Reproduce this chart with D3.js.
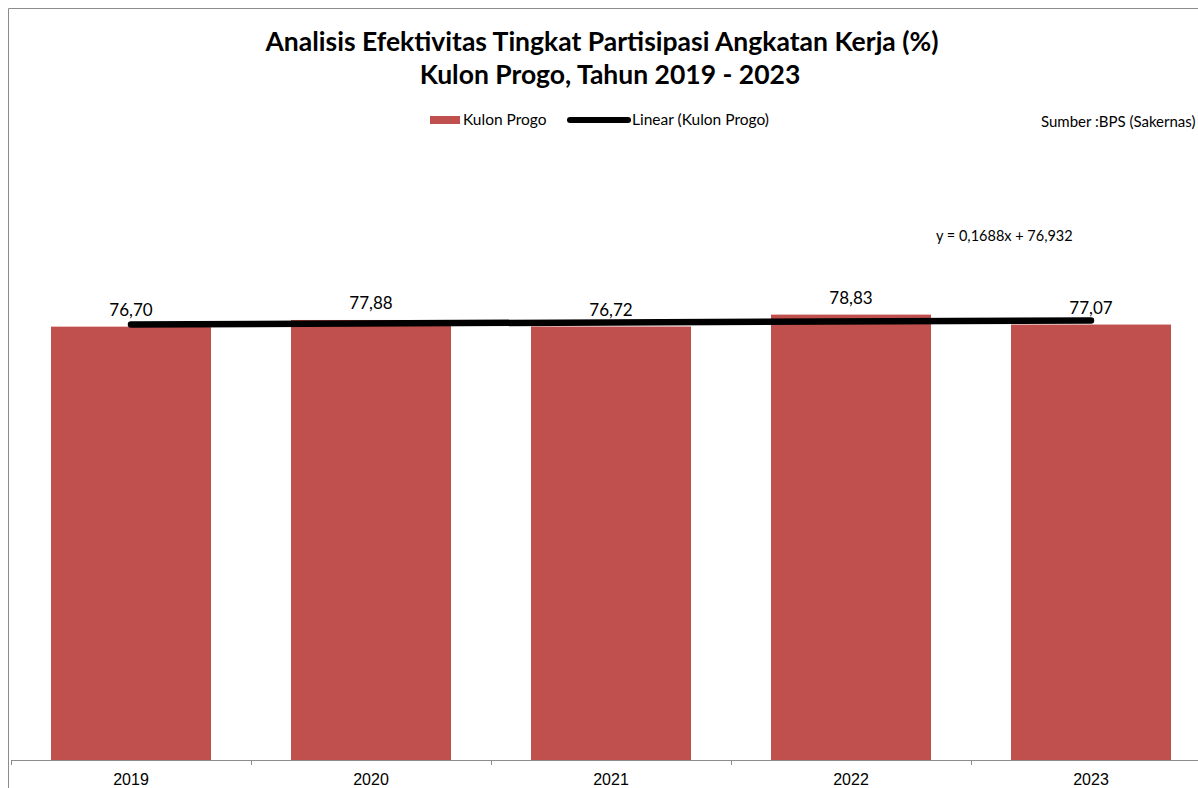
<!DOCTYPE html>
<html>
<head>
<meta charset="utf-8">
<script src="https://cdn.jsdelivr.net/npm/d3@7"></script>
<style>
body { margin: 0; background: #fff; }
svg { display: block; font-family: Lato, "Open Sans", sans-serif; }
</style>
</head>
<body>
<div id="chart"></div>
<script>
const years = ["2019", "2020", "2021", "2022", "2023"];
const tpak = [76.70, 77.88, 76.72, 78.83, 77.07];
const valueLabels = ["76,70", "77,88", "76,72", "78,83", "77,07"];
const trend = {slope: 0.1688, intercept: 76.932};
const trendLabel = "y = 0,1688x + 76,932";

const width = 1198;
const height = 788;
const margin = {top: 195, bottom: 28, left: 11, right: -13};
const barColor = "#C0504D";

let svg = d3.select("#chart")
	.append("svg")
	.attr("width", width)
	.attr("height", height);

// chart frame
svg.append("path")
	.attr("d", "M8.5,788 V8.5 H1198")
	.attr("fill", "none")
	.attr("stroke", "#8c8c8c")
	.attr("stroke-width", 1);

let x = d3.scaleBand()
	.domain(years)
	.range([margin.left, width - margin.right])
	.paddingInner(1/3)
	.paddingOuter(1/6);

let y = d3.scaleLinear()
	.domain([0, 100])
	.range([height - margin.bottom, margin.top]);

let canvas = svg.append("g");

canvas.selectAll(".bar")
	.data(tpak)
	.enter()
	.append("rect")
	.attr("class", "bar")
	.attr("x", (d, i) => x(years[i]))
	.attr("width", x.bandwidth())
	.attr("y", d => y(d))
	.attr("height", d => y(0) - y(d))
	.attr("fill", barColor);

// x axis, ticks sit between categories
let xAxis = d3.axisBottom(x).tickSize(0).tickPadding(14);
let gX = canvas.append("g")
	.attr("class", "axis axis-x")
	.attr("transform", "translate(0," + y(0) + ")")
	.call(xAxis);
gX.select(".domain").attr("stroke", "#8c8c8c").attr("d", "M" + margin.left + ",0.5H" + (width - margin.right));
gX.selectAll("text")
	.attr("font-size", 16)
	.attr("fill", "#000");
let step = x.step();
gX.selectAll(".sep")
	.data(d3.range(years.length + 1))
	.enter()
	.append("line")
	.attr("class", "sep")
	.attr("x1", i => margin.left + i * step + 0.5)
	.attr("x2", i => margin.left + i * step + 0.5)
	.attr("y1", 0)
	.attr("y2", 5)
	.attr("stroke", "#8c8c8c");

// trend line, linear fit over x = 1..n
let cx = (d, i) => x(years[i]) + x.bandwidth() / 2;
let ends = [0, years.length - 1];
canvas.append("path")
	.datum(ends)
	.attr("d", d3.line()
		.x(i => x(years[i]) + x.bandwidth() / 2)
		.y(i => y(trend.slope * (i + 1) + trend.intercept)))
	.attr("fill", "none")
	.attr("stroke", "#000")
	.attr("stroke-width", 6.5)
	.attr("stroke-linecap", "round");

// value labels
canvas.selectAll(".vlabel")
	.data(tpak)
	.enter()
	.append("text")
	.attr("class", "vlabel")
	.attr("x", (d, i) => cx(d, i))
	.attr("y", d => y(d) - 11)
	.attr("text-anchor", "middle")
	.attr("font-size", 17)
	.text((d, i) => valueLabels[i]);

// title
svg.append("text")
	.attr("x", 602)
	.attr("y", 51)
	.attr("text-anchor", "middle")
	.attr("font-size", 26.5)
	.attr("font-weight", "bold")
	.text("Analisis Efektivitas Tingkat Partisipasi Angkatan Kerja (%)");
svg.append("text")
	.attr("x", 610)
	.attr("y", 84)
	.attr("text-anchor", "middle")
	.attr("font-size", 26.5)
	.attr("font-weight", "bold")
	.text("Kulon Progo, Tahun 2019 - 2023");

// legend
let legend = svg.append("g").attr("font-size", 15.5);
legend.append("rect")
	.attr("x", 430).attr("y", 116).attr("width", 30).attr("height", 8)
	.attr("fill", barColor);
legend.append("text").attr("x", 463).attr("y", 125).text("Kulon Progo");
legend.append("line")
	.attr("x1", 570).attr("x2", 628).attr("y1", 120).attr("y2", 120)
	.attr("stroke", "#000").attr("stroke-width", 6).attr("stroke-linecap", "round");
legend.append("text").attr("x", 632).attr("y", 125).text("Linear (Kulon Progo)");

svg.append("text")
	.attr("x", 1041).attr("y", 127)
	.attr("font-size", 15)
	.text("Sumber :BPS (Sakernas)");

svg.append("text")
	.attr("x", 936).attr("y", 241)
	.attr("font-size", 14.5)
	.text(trendLabel);
</script>
</body>
</html>
